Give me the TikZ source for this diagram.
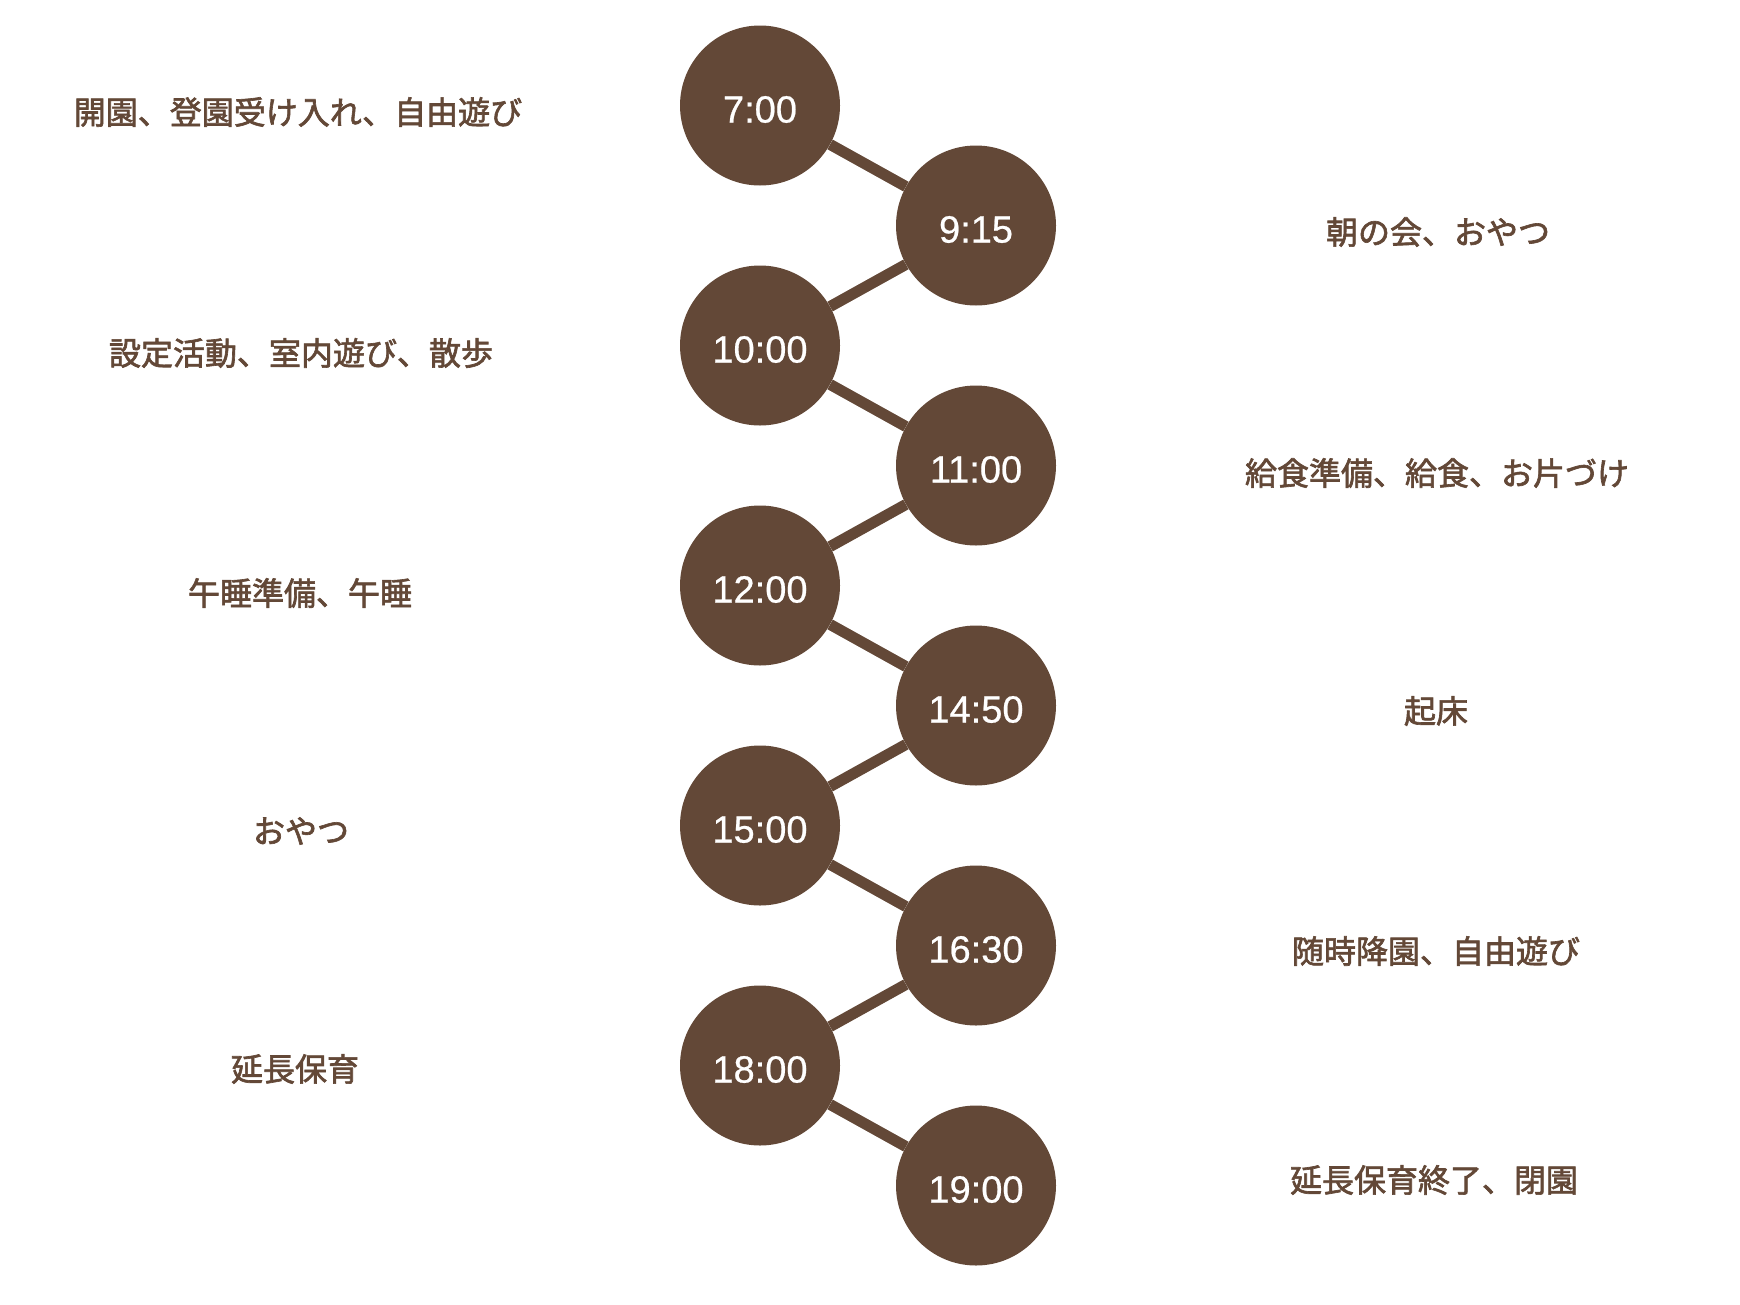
\documentclass[tikz,border=0pt]{standalone}
\usepackage{fontspec}
\newfontfamily\cjk[FakeBold=2]{Noto Sans CJK JP}
\newfontfamily\timefont[FakeBold=0.6]{Liberation Sans}
\definecolor{brn}{RGB}{99,72,55}
\begin{document}
\begin{tikzpicture}[x=1pt,y=-1pt,
  tcircle/.style={circle,fill=brn,minimum size=160pt,inner sep=0pt},
  tlabel/.style={text=white,font=\timefont\fontsize{38}{40}\selectfont,yshift=-4pt},
  link/.style={draw=brn,line width=11pt},
  desc/.style={text=brn,font=\cjk\fontsize{32}{34}\selectfont,anchor=center}]
\useasboundingbox (0,0) rectangle (1740,1304);
\foreach \n/\x/\y/\t in {1/760/105.5/7:00,2/976/225.5/9:15,3/760/345.5/10:00,4/976/465.5/11:00,5/760/585.5/12:00,6/976/705.5/14:50,7/760/825.5/15:00,8/976/945.5/16:30,9/760/1065.5/18:00,10/976/1185.5/19:00}{
  \node[tcircle] (t\n) at (\x,\y) {};
  \node[tlabel] (l\n) at (t\n.center) {\t};
}
\foreach \a/\b in {t1/t2,t2/t3,t3/t4,t4/t5,t5/t6,t6/t7,t7/t8,t8/t9,t9/t10}
  \draw[link] (\a) -- (\b);
\node[desc] (d1) at (298,112) {開園、登園受け入れ、自由遊び};
\node[desc] (d2) at (1438,232) {朝の会、おやつ};
\node[desc] (d3) at (301,353) {設定活動、室内遊び、散歩};
\node[desc] (d4) at (1437,473) {給食準備、給食、お片づけ};
\node[desc] (d5) at (300,593) {午睡準備、午睡};
\node[desc] (d6) at (1436,711) {起床};
\node[desc] (d7) at (301,831) {おやつ};
\node[desc] (d8) at (1436,951) {随時降園、自由遊び};
\node[desc] (d9) at (295,1069) {延長保育};
\node[desc] (d10) at (1434,1180) {延長保育終了、閉園};
\end{tikzpicture}
\end{document}
